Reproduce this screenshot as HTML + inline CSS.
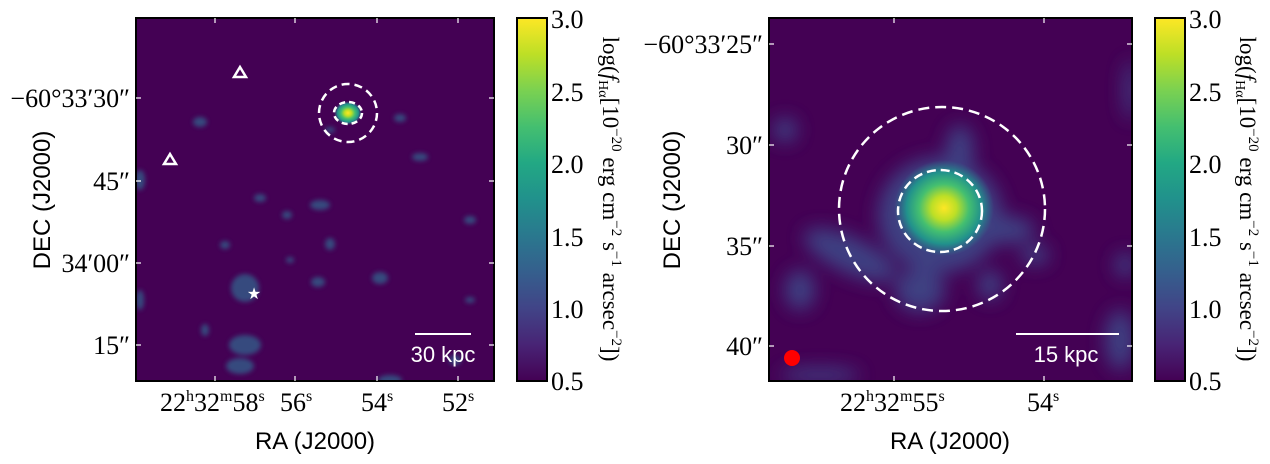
<!DOCTYPE html>
<html><head><meta charset="utf-8"><style>
html,body{margin:0;padding:0;background:#fff;width:1270px;height:464px;overflow:hidden}
svg{display:block}
.t{font-family:"Liberation Serif",serif;font-size:26px;fill:#000}
.s{font-family:"Liberation Sans",sans-serif;font-size:24px;fill:#000}
</style></head><body>
<svg width="1270" height="464" viewBox="0 0 1270 464" xmlns="http://www.w3.org/2000/svg">
<defs>
<linearGradient id="vir" x1="0" y1="1" x2="0" y2="0">
<stop offset="0" stop-color="#440154"/><stop offset="0.1" stop-color="#482475"/>
<stop offset="0.2" stop-color="#414487"/><stop offset="0.3" stop-color="#355f8d"/>
<stop offset="0.4" stop-color="#2a788e"/><stop offset="0.5" stop-color="#21918c"/>
<stop offset="0.6" stop-color="#22a884"/><stop offset="0.7" stop-color="#44bf70"/>
<stop offset="0.8" stop-color="#7ad151"/><stop offset="0.9" stop-color="#bddf26"/>
<stop offset="1" stop-color="#fde725"/></linearGradient>
<radialGradient id="core">
<stop offset="0" stop-color="#fde725"/><stop offset="0.25" stop-color="#bddf26"/>
<stop offset="0.5" stop-color="#44bf70"/><stop offset="0.75" stop-color="#21918c"/>
<stop offset="1" stop-color="#2a788e" stop-opacity="0"/></radialGradient>
<filter id="bl" x="-50%" y="-50%" width="200%" height="200%"><feGaussianBlur stdDeviation="2.5"/></filter>
<filter id="bl2" x="-50%" y="-50%" width="200%" height="200%"><feGaussianBlur stdDeviation="9"/></filter>
<clipPath id="c1"><rect x="136" y="18" width="358" height="363"/></clipPath>
<clipPath id="c2"><rect x="769" y="18" width="363" height="363"/></clipPath>
</defs>

<!-- LEFT PANEL -->
<rect x="136" y="18" width="358" height="363" fill="#440154"/>
<g clip-path="url(#c1)" filter="url(#bl)" fill="#33638d" opacity="0.75">
<ellipse cx="245" cy="345" rx="16" ry="10"/><ellipse cx="245" cy="288" rx="14" ry="14"/>
<ellipse cx="240" cy="366" rx="14" ry="8"/><ellipse cx="320" cy="205" rx="10" ry="5"/>
<ellipse cx="318" cy="282" rx="7" ry="5"/><ellipse cx="380" cy="278" rx="8" ry="6"/>
<ellipse cx="200" cy="122" rx="7" ry="5"/><ellipse cx="140" cy="180" rx="5" ry="10"/>
<ellipse cx="260" cy="198" rx="6" ry="4"/><ellipse cx="400" cy="118" rx="6" ry="4"/>
<ellipse cx="420" cy="157" rx="8" ry="4"/><ellipse cx="470" cy="220" rx="6" ry="4"/>
<ellipse cx="330" cy="244" rx="5" ry="6"/><ellipse cx="140" cy="300" rx="4" ry="10"/>
<ellipse cx="390" cy="380" rx="12" ry="5"/><ellipse cx="455" cy="360" rx="6" ry="5"/>
<ellipse cx="225" cy="245" rx="5" ry="4"/><ellipse cx="287" cy="215" rx="5" ry="4"/>
<ellipse cx="205" cy="330" rx="4" ry="6"/><ellipse cx="290" cy="260" rx="4" ry="3"/>
<ellipse cx="330" cy="130" rx="5" ry="3"/><ellipse cx="470" cy="300" rx="5" ry="3"/>
</g>
<ellipse cx="348" cy="113" rx="14" ry="12" fill="url(#core)"/>
<ellipse cx="348" cy="113" rx="29" ry="29" fill="none" stroke="#fff" stroke-width="2.5" stroke-dasharray="8,5"/>
<ellipse cx="348" cy="113" rx="14" ry="11" fill="none" stroke="#fff" stroke-width="2.5" stroke-dasharray="6,4"/>
<polygon points="240,67 234,77 246,77" fill="none" stroke="#fff" stroke-width="2.5"/>
<polygon points="170,154 164,164 176,164" fill="none" stroke="#fff" stroke-width="2.5"/>
<text x="254" y="299" text-anchor="middle" font-size="16" fill="#fff" font-family="DejaVu Sans">★</text>
<line x1="415" y1="334" x2="471" y2="334" stroke="#fff" stroke-width="2"/>
<text x="443" y="362" text-anchor="middle" class="s" style="fill:#fff;font-size:22px">30 kpc</text>
<rect x="136" y="18" width="358" height="363" fill="none" stroke="#000" stroke-width="2"/>
<g stroke="#fff" stroke-width="1.2">
<line x1="136" y1="98" x2="141" y2="98"/><line x1="136" y1="181" x2="141" y2="181"/><line x1="136" y1="263" x2="141" y2="263"/><line x1="136" y1="345" x2="141" y2="345"/>
<line x1="494" y1="98" x2="489" y2="98"/><line x1="494" y1="181" x2="489" y2="181"/><line x1="494" y1="263" x2="489" y2="263"/><line x1="494" y1="345" x2="489" y2="345"/>
<line x1="215" y1="381" x2="215" y2="376"/><line x1="295" y1="381" x2="295" y2="376"/><line x1="377" y1="381" x2="377" y2="376"/><line x1="458" y1="381" x2="458" y2="376"/>
<line x1="215" y1="18" x2="215" y2="23"/><line x1="295" y1="18" x2="295" y2="23"/><line x1="377" y1="18" x2="377" y2="23"/><line x1="458" y1="18" x2="458" y2="23"/>
</g>
<g class="t" text-anchor="end">
<text x="130" y="107">−60°33′30″</text><text x="130" y="190">45″</text>
<text x="130" y="272">34′00″</text><text x="130" y="354">15″</text>
</g>
<g class="t">
<text x="160" y="411">22<tspan font-size="16" dy="-10">h</tspan><tspan dy="10">32</tspan><tspan font-size="16" dy="-10">m</tspan><tspan dy="10">58</tspan><tspan font-size="16" dy="-10">s</tspan></text>
<text x="280" y="411">56<tspan font-size="16" dy="-10">s</tspan></text>
<text x="361" y="411">54<tspan font-size="16" dy="-10">s</tspan></text>
<text x="442" y="411">52<tspan font-size="16" dy="-10">s</tspan></text>
</g>
<text x="315" y="449" text-anchor="middle" class="s">RA (J2000)</text>
<text transform="translate(50,200) rotate(-90)" text-anchor="middle" class="s">DEC (J2000)</text>

<!-- colorbar left -->
<rect x="517" y="18" width="30" height="363" fill="url(#vir)" stroke="#000" stroke-width="2"/>
<g class="t"><text x="551" y="28">3.0</text><text x="551" y="101">2.5</text><text x="551" y="173">2.0</text><text x="551" y="246">1.5</text><text x="551" y="318">1.0</text><text x="551" y="390">0.5</text></g>
<text transform="translate(603,199) rotate(90)" text-anchor="middle" class="t" style="font-size:23px">log(<tspan font-style="italic">f</tspan><tspan font-size="14" dy="4">Hα</tspan><tspan dy="-4">[10</tspan><tspan font-size="15" dy="-9">−20</tspan><tspan dy="9"> erg cm</tspan><tspan font-size="15" dy="-9">−2</tspan><tspan dy="9"> s</tspan><tspan font-size="15" dy="-9">−1</tspan><tspan dy="9"> arcsec</tspan><tspan font-size="15" dy="-9">−2</tspan><tspan dy="9">])</tspan></text>

<!-- RIGHT PANEL -->
<rect x="769" y="18" width="363" height="363" fill="#440154"/>
<g clip-path="url(#c2)">
<g filter="url(#bl2)" fill="#3e4c8a" opacity="0.85">
<ellipse cx="940" cy="215" rx="62" ry="58"/>
<ellipse cx="960" cy="150" rx="14" ry="25"/>
<ellipse cx="1005" cy="230" rx="30" ry="14"/>
<ellipse cx="1035" cy="255" rx="14" ry="10"/>
<ellipse cx="850" cy="255" rx="50" ry="18" transform="rotate(25 850 255)"/>
<ellipse cx="800" cy="290" rx="15" ry="20"/>
<ellipse cx="920" cy="290" rx="25" ry="22"/>
<ellipse cx="990" cy="285" rx="12" ry="15"/>
<ellipse cx="785" cy="130" rx="12" ry="12"/>
<ellipse cx="1125" cy="265" rx="10" ry="12"/>
<ellipse cx="1120" cy="340" rx="15" ry="30"/>
<ellipse cx="820" cy="375" rx="40" ry="7"/>
<ellipse cx="1130" cy="90" rx="6" ry="30"/>
</g>
<ellipse cx="944" cy="208" rx="50" ry="48" fill="url(#core)"/>
</g>
<ellipse cx="942" cy="209" rx="103" ry="102" fill="none" stroke="#fff" stroke-width="2.5" stroke-dasharray="11,6"/>
<ellipse cx="940" cy="211" rx="42" ry="41" fill="none" stroke="#fff" stroke-width="2.5" stroke-dasharray="9,5"/>
<ellipse cx="792" cy="358" rx="8" ry="8" fill="#ff0000"/>
<line x1="1016" y1="334" x2="1119" y2="334" stroke="#fff" stroke-width="2"/>
<text x="1066" y="362" text-anchor="middle" class="s" style="fill:#fff;font-size:22px">15 kpc</text>
<rect x="769" y="18" width="363" height="363" fill="none" stroke="#000" stroke-width="2"/>
<g stroke="#fff" stroke-width="1.2">
<line x1="769" y1="44" x2="774" y2="44"/><line x1="769" y1="145" x2="774" y2="145"/><line x1="769" y1="246" x2="774" y2="246"/><line x1="769" y1="346" x2="774" y2="346"/>
<line x1="1132" y1="44" x2="1127" y2="44"/><line x1="1132" y1="145" x2="1127" y2="145"/><line x1="1132" y1="246" x2="1127" y2="246"/><line x1="1132" y1="346" x2="1127" y2="346"/>
<line x1="894" y1="381" x2="894" y2="376"/><line x1="1044" y1="381" x2="1044" y2="376"/>
<line x1="894" y1="18" x2="894" y2="23"/><line x1="1044" y1="18" x2="1044" y2="23"/>
</g>
<g class="t" text-anchor="end">
<text x="763" y="53">−60°33′25″</text><text x="763" y="154">30″</text>
<text x="763" y="255">35″</text><text x="763" y="355">40″</text>
</g>
<g class="t">
<text x="840" y="411">22<tspan font-size="16" dy="-10">h</tspan><tspan dy="10">32</tspan><tspan font-size="16" dy="-10">m</tspan><tspan dy="10">55</tspan><tspan font-size="16" dy="-10">s</tspan></text>
<text x="1027" y="411">54<tspan font-size="16" dy="-10">s</tspan></text>
</g>
<text x="950" y="449" text-anchor="middle" class="s">RA (J2000)</text>
<text transform="translate(680,200) rotate(-90)" text-anchor="middle" class="s">DEC (J2000)</text>

<!-- colorbar right -->
<rect x="1155" y="18" width="30" height="363" fill="url(#vir)" stroke="#000" stroke-width="2"/>
<g class="t"><text x="1189" y="28">3.0</text><text x="1189" y="101">2.5</text><text x="1189" y="173">2.0</text><text x="1189" y="246">1.5</text><text x="1189" y="318">1.0</text><text x="1189" y="390">0.5</text></g>
<text transform="translate(1240,199) rotate(90)" text-anchor="middle" class="t" style="font-size:23px">log(<tspan font-style="italic">f</tspan><tspan font-size="14" dy="4">Hα</tspan><tspan dy="-4">[10</tspan><tspan font-size="15" dy="-9">−20</tspan><tspan dy="9"> erg cm</tspan><tspan font-size="15" dy="-9">−2</tspan><tspan dy="9"> s</tspan><tspan font-size="15" dy="-9">−1</tspan><tspan dy="9"> arcsec</tspan><tspan font-size="15" dy="-9">−2</tspan><tspan dy="9">])</tspan></text>
</svg>
</body></html>
